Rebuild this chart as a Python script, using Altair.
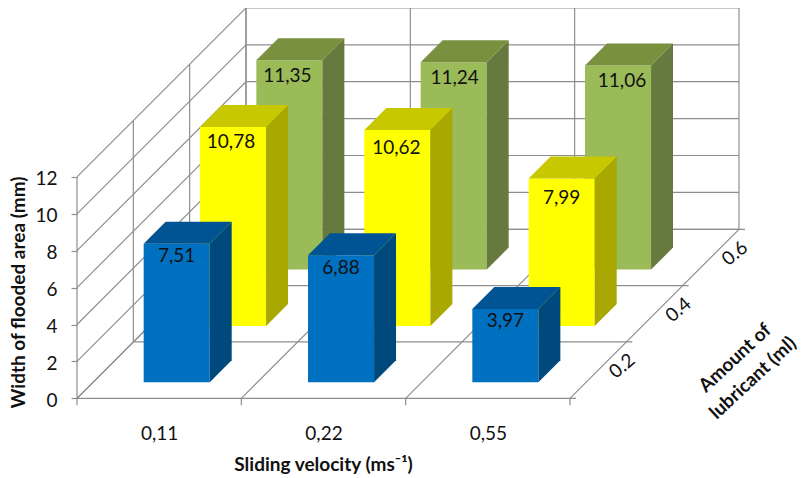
import altair as alt
import pandas as pd

categories = ["0,11", "0,22", "0,55"]
depth_labels = ["0.2", "0.4", "0.6"]
blue = [7.51, 6.88, 3.97]
yellow = [10.78, 10.62, 7.99]
green = [11.35, 11.24, 11.06]
rows = [
    (blue, "#0070C0", "#005493", "#00497D"),
    (yellow, "#FFFF00", "#C8C800", "#A8A800"),
    (green, "#9BBB59", "#79913F", "#667A40"),
]
y_ticks = [0, 2, 4, 6, 8, 10, 12]

FONT = "Lato"
FS = 19
GRID = "#8E8E8E"
INK = "#111111"
LEFT, TOP, W, H = 77, 8, 723, 466
CW, DW, VU, Y0 = 164.33, 56.33, 18.45, 398.3  # px per category, depth row, unit; floor y


def project(c, r, v):
    """Oblique projection of (category, depth row, value) to scale units."""
    return c + r * DW / CW, v + r * DW / VU


sx = alt.Scale(domain=[0, W / CW], range=[0, W], nice=False, zero=False)
sy = alt.Scale(domain=[(Y0 - TOP - H) / VU, (Y0 - TOP) / VU], range=[H, 0], nice=False, zero=False)

x_axis = alt.Axis(
    values=[0.5, 1.5, 2.5],
    labelExpr="['" + "','".join(categories) + "'][floor(datum.value)]",
    title="Sliding velocity (ms⁻¹)",
    domain=False,
    ticks=False,
    grid=False,
    offset=-(TOP + H - Y0),
    labelPadding=26,
    labelFontSize=FS,
    labelColor=INK,
    labelFont=FONT,
    titleFont=FONT,
    titleFontSize=FS,
    titleFontWeight="bold",
    titleColor=INK,
    titleBaseline="middle",
    titleX=246,
    titleY=66,
)
y_axis = alt.Axis(
    values=y_ticks,
    title="Width of flooded area (mm)",
    domain=False,
    grid=False,
    tickSize=6,
    tickColor=GRID,
    tickWidth=1.2,
    labelPadding=14,
    labelOffset=2,
    labelFontSize=FS,
    labelColor=INK,
    labelFont=FONT,
    titleFont=FONT,
    titleFontSize=FS,
    titleFontWeight="bold",
    titleColor=INK,
    titleBaseline="middle",
    titleX=-58.5,
    titleY=284,
)
X = alt.X("x:Q", scale=sx, axis=x_axis)
Y = alt.Y("y:Q", scale=sy, axis=y_axis)

# ---- walls, floor and ticks
segs = []


def seg(a, b):
    (x, y), (x2, y2) = project(*a), project(*b)
    segs.append(dict(x=x, y=y, x2=x2, y2=y2))


for v in y_ticks:
    seg((0, 0, v), (0, 3, v))
    seg((0, 3, v), (3, 3, v))
for i in range(4):
    seg((0, i, 0), (0, i, 12))
    seg((i, 3, 0), (i, 3, 12))
    seg((i, 0, 0), (i, 3, 0))
    seg((0, i, 0), (3 + 6 / CW, i, 0))
    seg((i, 0, 0), (i, 0, -7 / VU))
walls = (
    alt.Chart(pd.DataFrame(segs))
    .mark_rule(color=GRID, strokeWidth=1.2)
    .encode(x=X, y=Y, x2="x2:Q", y2="y2:Q")
)

# ---- bars
C0, CWID, R0, RDEP = 0.308, 0.402, 0.285, 0.39


def face_rows(values, front, top, side, r):
    out = []
    r0, r1 = r + R0, r + R0 + RDEP
    for i, v in enumerate(values):
        c0, c1 = i + C0, i + C0 + CWID
        for c in (c0, c1):
            x, y = project(c, r0, 0)
            _, y2 = project(c, r0, v)
            out.append(dict(x=x, y=y, y2=y2, face=f"f{i}", fill=front))
        for rr in (r0, r1):
            x, y = project(c1, rr, 0)
            _, y2 = project(c1, rr, v)
            out.append(dict(x=x, y=y, y2=y2, face=f"s{i}", fill=side))
        rise = (r1 - r0) * DW / VU
        xa, ya = project(c0, r0, v)
        xb, _ = project(c0, r1, v)
        xc, _ = project(c1, r0, v)
        xd, _ = project(c1, r1, v)
        for x, lo, hi in ((xa, ya, ya), (xb, ya, ya + rise), (xc, ya, ya + rise), (xd, ya + rise, ya + rise)):
            out.append(dict(x=x, y=lo, y2=hi, face=f"t{i}", fill=top))
    return out


bars = []
for r in (2, 1, 0):
    values, front, top, side = rows[r]
    bars.append(
        alt.Chart(pd.DataFrame(face_rows(values, front, top, side, r)))
        .mark_area(opacity=1, interpolate="linear", strokeWidth=0)
        .encode(x=X, y=Y, y2="y2:Q", detail="face:N", color=alt.Color("fill:N", scale=None, legend=None))
    )

# ---- value labels: each sits a little below its bar's front top edge
lab = []
label_drop = [12.5, 15.5, 16.0]
nudge = {(1, 0): (-2, -1), (1, 1): (-1, 3), (1, 2): (0, 4), (2, 0): (-2, 0), (2, 1): (1, 0), (2, 2): (4, -1)}
for r in (2, 1, 0):
    for i, v in enumerate(rows[r][0]):
        x, y = project(i + C0 + CWID / 2, r + R0, v)
        nx, ny = nudge.get((r, i), (0, 0))
        lab.append(dict(x=x + nx / CW, y=y - (label_drop[r] + ny) / VU, t=f"{v:.2f}".replace(".", ",")))
value_labels = (
    alt.Chart(pd.DataFrame(lab))
    .mark_text(font=FONT, fontSize=FS, color=INK, align="center", baseline="middle")
    .encode(x=X, y=Y, text="t:N")
)

# ---- depth labels
dl = []
for r, t in enumerate(depth_labels):
    x, y = project(3, r + 0.5, 0)
    dl.append(dict(x=x + 24 / CW, y=y + 4 / VU, t=t))
depth_text = (
    alt.Chart(pd.DataFrame(dl))
    .mark_text(font=FONT, fontSize=FS, color=INK, angle=320, align="center", baseline="middle")
    .encode(x=X, y=Y, text="t:N")
)

# ---- lubricant title
title_lines = pd.DataFrame({"t": ["Amount of", "lubricant (ml)"], "px": [735, 753], "py": [358, 378]})
title_lines["x"] = (title_lines.px - LEFT) / CW
title_lines["y"] = (Y0 - title_lines.py) / VU
depth_title = (
    alt.Chart(title_lines)
    .mark_text(font=FONT, fontSize=FS, fontWeight="bold", color=INK, angle=317, align="center", baseline="middle")
    .encode(x=X, y=Y, text="t:N")
)

chart = (
    alt.layer(walls, *bars, value_labels, depth_text, depth_title)
    .properties(
        width=W,
        height=H,
        autosize="none",
        padding={"left": LEFT - 8, "top": TOP - 8, "right": 0, "bottom": 0},
        background="white",
    )
    .configure_view(stroke=None)
)

chart.save("out.html", embed_options={"renderer": "svg", "actions": False})
